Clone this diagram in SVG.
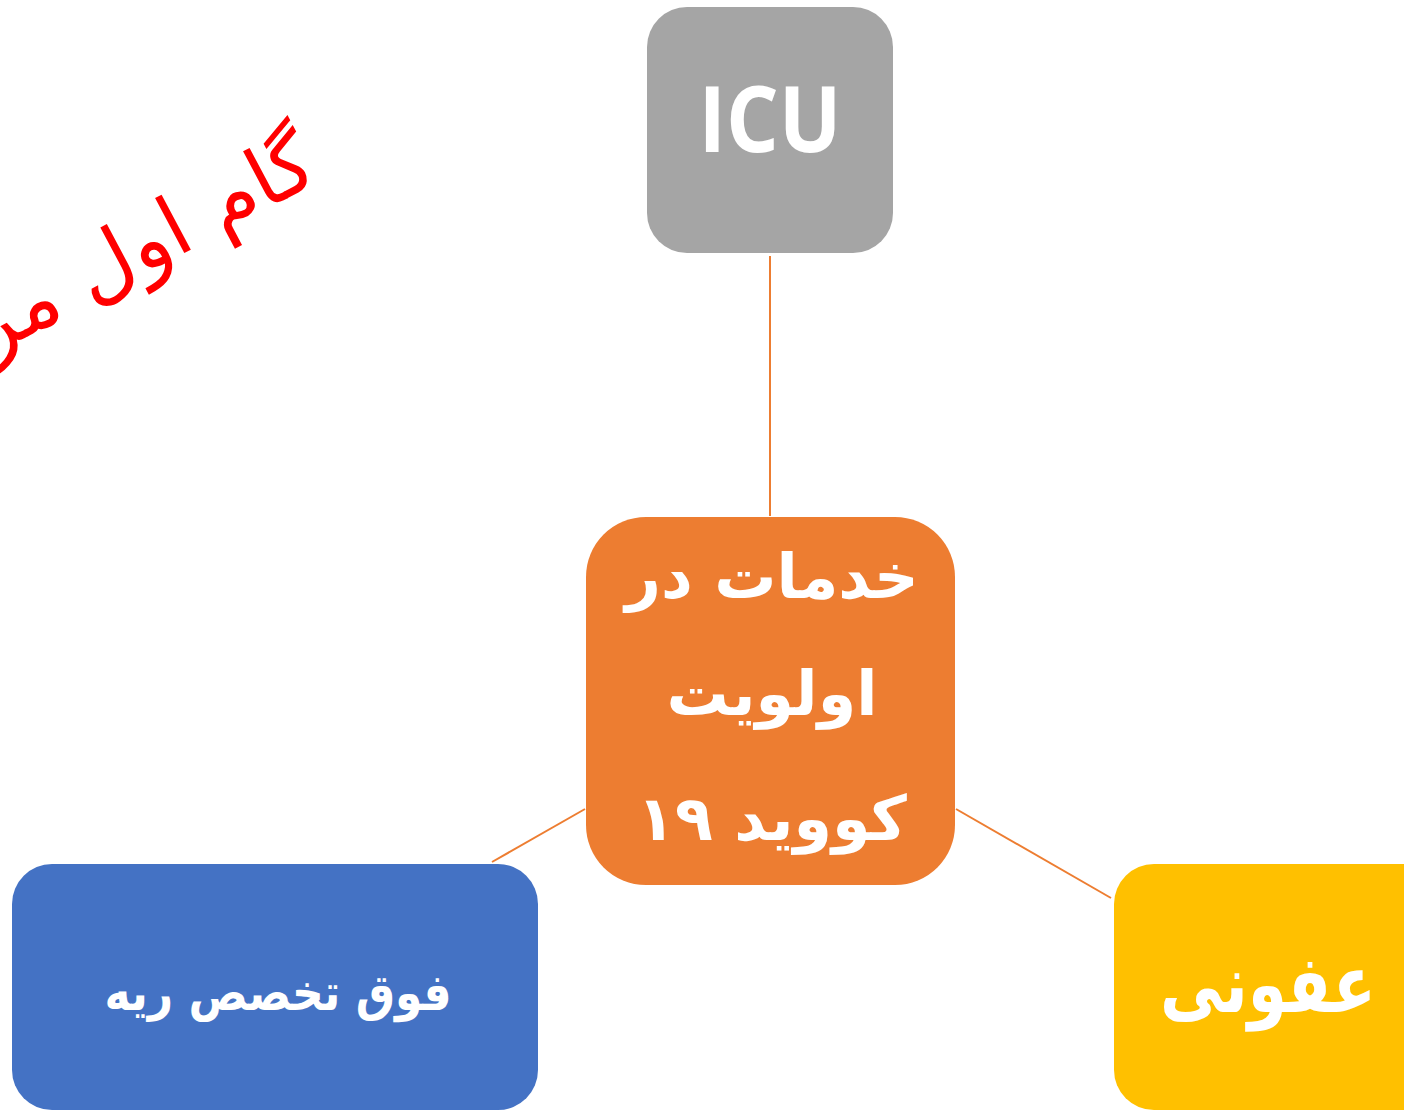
<svg xmlns="http://www.w3.org/2000/svg" width="1404" height="1111" viewBox="0 0 1404 1111">
<style>
.lbl{fill:#fff;font-family:"DejaVu Sans",sans-serif;font-weight:bold;text-anchor:middle;direction:rtl}
.con{stroke:#ED7D31;stroke-width:2;fill:none}
</style>
<rect width="1404" height="1111" fill="#fff"/>
<g id="connectors">
<line class="con" x1="770" y1="256" x2="770" y2="516"/>
<line class="con" x1="585" y1="809" x2="492" y2="862"/>
<line class="con" x1="956" y1="809" x2="1111" y2="898"/>
</g>
<g id="node-icu">
<rect x="647" y="7" width="246" height="246" rx="40" fill="#A5A5A5"/>
<text x="770" y="152" fill="#fff" font-family="'Open Sans',sans-serif" font-weight="bold" font-size="92" text-anchor="middle" textLength="143" lengthAdjust="spacingAndGlyphs">ICU</text>
</g>
<g id="node-center">
<rect x="586" y="517" width="369" height="368" rx="60" fill="#ED7D31"/>
<text class="lbl" x="772" y="598" font-size="62">خدمات در</text>
<text class="lbl" x="772" y="715" font-size="62">اولویت</text>
<text class="lbl" x="772" y="840" font-size="62">کووید ۱۹</text>
</g>
<g id="node-lung">
<rect x="12" y="864" width="526" height="246" rx="40" fill="#4472C4"/>
<text class="lbl" x="278" y="1010" font-size="50" textLength="347" lengthAdjust="spacingAndGlyphs">فوق تخصص ریه</text>
</g>
<g id="node-infect">
<rect x="1114" y="864" width="330" height="246" rx="40" fill="#FFC000"/>
<text class="lbl" x="1268" y="1012" font-size="80" textLength="216" lengthAdjust="spacingAndGlyphs">عفونی</text>
</g>
<g id="title">
<text x="0" y="0" transform="translate(322,180) rotate(-28)" fill="#FF0000" font-family="'DejaVu Sans',sans-serif" font-size="82" direction="rtl" text-anchor="start">گام اول مر</text>
</g>
</svg>
